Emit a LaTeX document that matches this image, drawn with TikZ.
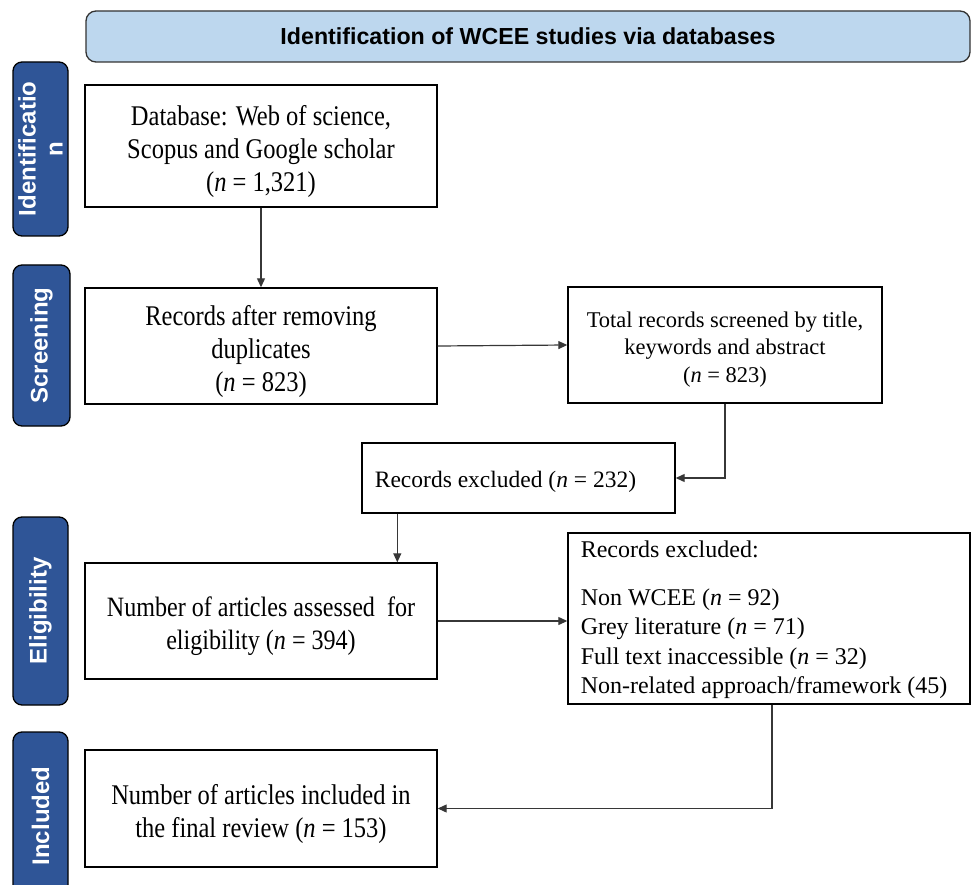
\documentclass[tikz,border=0pt]{standalone}
\usepackage{fontspec}
\setmainfont{Liberation Serif}[FakeStretch=0.86]
\newfontfamily\plainserif{Liberation Serif}
\newfontfamily\hdfont{Liberation Sans}
\usetikzlibrary{arrows.meta}
\definecolor{hdblue}{RGB}{189,215,238}
\definecolor{sideblue}{RGB}{47,85,151}
\definecolor{linegray}{RGB}{55,55,55}
\newcommand\lowerby[1]{\rule{0pt}{#1}}
\begin{document}
\begin{tikzpicture}[x=1pt,y=-1pt,
  flowbox/.style={draw=black, line width=1.4pt, inner sep=0pt, align=center,
    font=\fontsize{28.5}{33}\selectfont},
  smallbox/.style={draw=black, line width=1.4pt, inner sep=0pt, align=center,
    font=\plainserif\fontsize{22.5}{27.5}\selectfont},
  sidebox/.style={draw=black, fill=sideblue, rounded corners=9pt, line width=1.3pt,
    text=white, inner sep=0pt, align=center, rotate=90,
    font=\hdfont\bfseries\fontsize{24}{27}\selectfont},
  headbox/.style={draw=black!80, fill=hdblue, rounded corners=10pt, line width=1.3pt,
    inner sep=0pt, font=\hdfont\bfseries\fontsize{23.2}{27}\selectfont},
  arr/.style={draw=linegray, line width=1.2pt, -{Triangle[length=9pt,width=8pt]}}
]
\useasboundingbox (0,0) rectangle (974,885);

\node[headbox, minimum width=884pt, minimum height=51pt] (head) at (528,36.5)
  {Identification of WCEE studies via databases};

\node[sidebox, minimum width=174pt, minimum height=55pt] (sid) at (40.5,149) {Identificatio\\n};
\node[sidebox, minimum width=161pt, minimum height=57pt] (sscr) at (41.5,345.5) {Screening};
\node[sidebox, minimum width=188pt, minimum height=55pt] (selig) at (40.5,611) {Eligibility};
\node[sidebox, minimum width=168pt, minimum height=55pt] (sinc) at (40.5,816) {Included};

\node[flowbox, minimum width=352pt, minimum height=122pt] (db) at (261,146)
  {\lowerby{32pt}Database: Web of science,\\Scopus and Google scholar\\(\textit{n} = 1,321)};
\node[flowbox, minimum width=352pt, minimum height=116pt] (rm) at (261,346)
  {\lowerby{32pt}Records after removing\\duplicates\\(\textit{n} = 823)};
\node[smallbox, minimum width=314pt, minimum height=116pt] (tot) at (725,345)
  {\lowerby{24pt}Total records screened by title,\\keywords and abstract\\(\textit{n} = 823)};
\node[smallbox, font=\plainserif\fontsize{23.5}{28}\selectfont, minimum width=313pt, minimum height=70pt] (ex1) at (518.5,478)
  {\lowerby{23pt}Records excluded (\textit{n} = 232)\hspace{26pt}};
\node[flowbox, font=\fontsize{28}{33}\selectfont, minimum width=352pt, minimum height=116pt] (as) at (261,621)
  {\lowerby{31pt}Number of articles assessed\ \ for\\eligibility (\textit{n} = 394)};
\node[smallbox, font=\plainserif\fontsize{24}{29.5}\selectfont, align=left, minimum width=402pt, minimum height=171pt] (ex2) at (769,618.5)
  {\hspace{-10pt}\begin{tabular}{@{}l@{}}\lowerby{23pt}Records excluded:\\[18pt]
   Non WCEE (\textit{n} = 92)\\
   Grey literature (\textit{n} = 71)\\
   Full text inaccessible (\textit{n} = 32)\\
   Non-related approach/framework (45)\end{tabular}};
\node[flowbox, minimum width=352pt, minimum height=117pt] (inc) at (261,808.5)
  {\lowerby{32pt}Number of articles included in\\the final review (\textit{n} = 153)};

\draw[arr] (db.south) -- (rm.north);
\draw[arr] (rm.east) -- (tot.west);
\draw[arr] (tot.south) |- (ex1.east);
\draw[arr] ([xshift=36pt]ex1.south west) -- ([xshift=36pt]ex1.south west |- as.north);
\draw[arr] (as.east) -- (as.east -| ex2.west);
\draw[arr] ([xshift=3pt]ex2.south) |- (inc.east);
\end{tikzpicture}
\end{document}
